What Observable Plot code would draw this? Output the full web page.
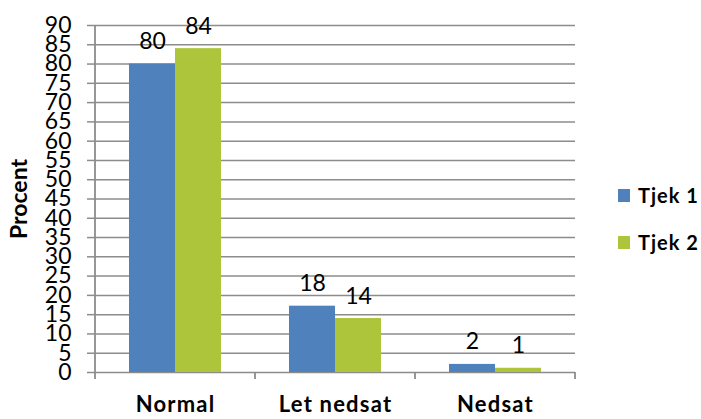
<!DOCTYPE html>
<html><head><meta charset="utf-8">
<script src="https://cdn.jsdelivr.net/npm/d3@7"></script>
<script src="https://cdn.jsdelivr.net/npm/@observablehq/plot@0.6"></script>
<style>
body{margin:0;background:#fff;font-family:Lato,sans-serif}
#wrap{position:relative;width:701px;height:419px}
#legend{position:absolute;left:618px;top:183px}
.item{display:flex;align-items:center;height:24px;margin-bottom:23px;font-weight:bold;font-size:20px;letter-spacing:1px;color:#000}
.sw{width:12px;height:13px;margin-right:8px}
svg [aria-label="fx-axis tick label"] text{letter-spacing:1.2px}
</style></head><body><div id="wrap"><div id="chart"></div><div id="legend"></div></div>
<script>
const categories = ["Normal", "Let nedsat", "Nedsat"];
const series = ["Tjek 1", "Tjek 2"];
const tjek1 = [80, 17.2, 2.1];
const tjek2 = [84, 14, 1.1];
const tjek1Labels = ["80", "18", "2"];
const tjek2Labels = ["84", "14", "1"];
const yTicks = [0, 5, 10, 15, 20, 25, 30, 35, 40, 45, 50, 55, 60, 65, 70, 75, 80, 85, 90];
const yLabel = "Procent";
const colors = ["#4f81bd", "#adc53a"];

const rows = categories.flatMap((c, i) => [
  {category: c, series: series[0], value: tjek1[i], label: tjek1Labels[i]},
  {category: c, series: series[1], value: tjek2[i], label: tjek2Labels[i]}
]);

const gridColor = "#8c8c8c";
const chart = Plot.plot({
  width: 601, height: 419,
  marginLeft: 94, marginRight: 26, marginTop: 25, marginBottom: 47,
  style: {fontFamily: "Lato, sans-serif", fontSize: "23px", color: "#000", background: "#fff", overflow: "visible"},
  fx: {domain: categories, padding: 0, label: null},
  x: {domain: series, paddingInner: 0, paddingOuter: 0.739, axis: null},
  y: {domain: [0, 90], label: null},
  color: {domain: series, range: colors},
  marks: [
    Plot.ruleY(yTicks, {stroke: gridColor, strokeWidth: 1.5}),
    Plot.barY(rows, {fx: "category", x: "series", y: "value", fill: "series"}),
    Plot.text(rows, {fx: "category", x: "series", y: "value", text: "label", lineAnchor: "bottom", dy: -15, fontSize: 23, fill: "#000"}),
    Plot.axisY({ticks: yTicks, tickSize: 8, tickPadding: 16, stroke: gridColor, strokeWidth: 1.5, fill: "#000", label: null, fontSize: 23}),
    Plot.text([yLabel], {fx: () => categories[0], frameAnchor: "left", textAnchor: "middle", rotate: -90, dx: -76, fontWeight: "bold", fontSize: 23, fill: "#000"}),
    Plot.axisFx({anchor: "bottom", tickSize: 0, tickPadding: 24, fontWeight: "bold", fontSize: 22, label: null, fill: "#000"})
  ]
});

// axis line and category boundary ticks, placed through the chart's own scales
const fxs = chart.scale("fx"), ys = chart.scale("y");
const y0 = ys.apply(0), yTop = ys.apply(90);
const edges = [fxs.apply(categories[0]), ...categories.map(c => fxs.apply(c) + fxs.bandwidth)];
const g = d3.select(chart).append("g").attr("stroke", gridColor).attr("stroke-width", 1.8);
g.append("line").attr("x1", edges[0]).attr("x2", edges[0]).attr("y1", yTop).attr("y2", y0 + 7);
edges.slice(1).forEach(x => g.append("line").attr("x1", x).attr("x2", x).attr("y1", y0).attr("y2", y0 + 7));

document.getElementById("chart").appendChild(chart);

const legend = document.getElementById("legend");
series.forEach((s, i) => {
  const item = document.createElement("div");
  item.className = "item";
  const sw = document.createElement("span");
  sw.className = "sw";
  sw.style.background = colors[i];
  item.appendChild(sw);
  item.appendChild(document.createTextNode(s));
  legend.appendChild(item);
});
</script></body></html>
